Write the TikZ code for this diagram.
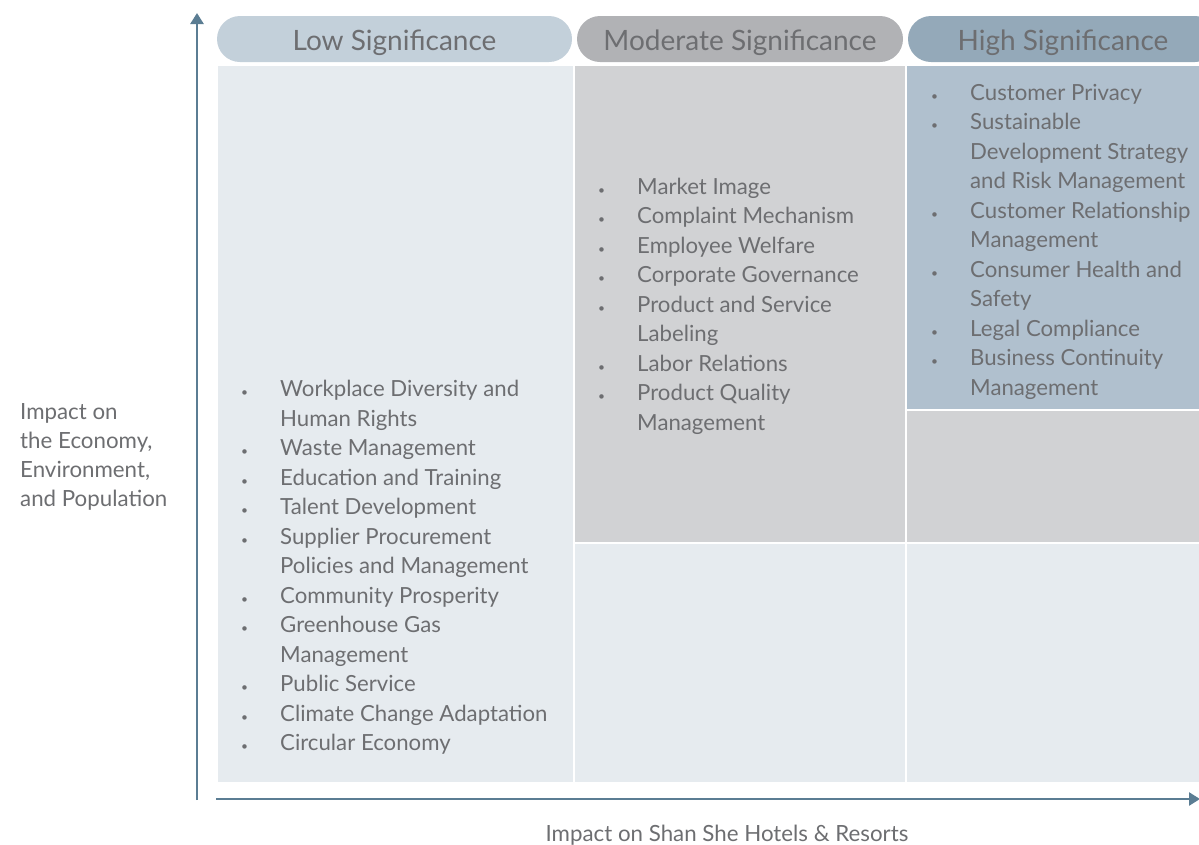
\documentclass[tikz,border=0pt]{standalone}
\usepackage{fontspec}
\setmainfont{Lato}
\usetikzlibrary{arrows.meta}
\definecolor{lowhead}{HTML}{C3D0DA}
\definecolor{modhead}{HTML}{B1B2B5}
\definecolor{highhead}{HTML}{94A9B9}
\definecolor{lowcell}{HTML}{E6EBEF}
\definecolor{modcell}{HTML}{D1D2D4}
\definecolor{highcell}{HTML}{B0C0CE}
\definecolor{axiscol}{HTML}{5B7D93}
\definecolor{txt}{HTML}{6D6E71}
\newcommand\bul{\makebox[36pt][l]{\hspace{-3pt}{\fontsize{12}{12}\selectfont •}}}
\newcommand\ind{\hspace*{36pt}}
\tikzset{
  head/.style={rounded corners=23pt, minimum height=46pt, inner sep=0pt, text height=22pt, text depth=0pt, text=txt, font=\fontsize{28}{30}\selectfont},
  cell/.style={inner sep=0pt, anchor=north west},
  list/.style={inner sep=0pt, anchor=base west, align=left, text=txt, font=\fontsize{22.2}{29.5}\selectfont},
  axis/.style={draw=axiscol, line width=2.5pt, -{Triangle[length=11pt,width=13pt]}},
  label/.style={inner sep=0pt, text=txt, font=\fontsize{22.3}{29}\selectfont}
}
\begin{document}
\begin{tikzpicture}[x=1pt,y=-1pt]
\useasboundingbox (0,0) rectangle (1199,844);
% headers
\node[head, fill=lowhead, minimum width=355pt] (hlow) at (394.5,39) {Low Significance};
\node[head, fill=modhead, minimum width=326pt] (hmod) at (740,39) {Moderate Significance};
\node[head, fill=highhead, minimum width=310pt] (hhigh) at (1063,39) {High Significance};
% cells
\node[cell, fill=lowcell, minimum width=355pt, minimum height=716pt] (clow) at (218,66) {};
\node[cell, fill=modcell, minimum width=330pt, minimum height=476pt] (cmodtop) at (575,66) {};
\node[cell, fill=lowcell, minimum width=330pt, minimum height=238pt] (cmodbot) at (575,544) {};
\node[cell, fill=highcell, minimum width=300pt, minimum height=343pt] (chightop) at (907,66) {};
\node[cell, fill=modcell, minimum width=300pt, minimum height=131pt] (chighmid) at (907,411) {};
\node[cell, fill=lowcell, minimum width=300pt, minimum height=238pt] (chighbot) at (907,544) {};
% axes
\coordinate (yb) at (197,800);
\coordinate (yt) at (197,13);
\coordinate (xl) at (216,799);
\coordinate (xr) at (1200,799);
\draw[axis] (yb) -- (yt);
\draw[axis] (xl) -- (xr);
% lists (anchored at the baseline of their last line)
\node[list] (llow) at (244,750.5) {\bul Workplace Diversity and\\
\ind Human Rights\\
\bul Waste Management\\
\bul Education and Training\\
\bul Talent Development\\
\bul Supplier Procurement\\
\ind Policies and Management\\
\bul Community Prosperity\\
\bul Greenhouse Gas\\
\ind Management\\
\bul Public Service\\
\bul Climate Change Adaptation\\
\bul Circular Economy};
\node[list] (lmod) at (601,430) {\bul Market Image\\
\bul Complaint Mechanism\\
\bul Employee Welfare\\
\bul Corporate Governance\\
\bul Product and Service\\
\ind Labeling\\
\bul Labor Relations\\
\bul Product Quality\\
\ind Management};
\node[list] (lhigh) at (934,395) {\bul Customer Privacy\\
\bul Sustainable\\
\ind Development Strategy\\
\ind and Risk Management\\
\bul Customer Relationship\\
\ind Management\\
\bul Consumer Health and\\
\ind Safety\\
\bul Legal Compliance\\
\bul Business Continuity\\
\ind Management};
% axis labels
\node[label, anchor=base west, align=left] (ylab) at (20,506) {Impact on\\the Economy,\\Environment,\\and Population};
\node[label, anchor=base] (xlab) at (727,841) {Impact on Shan She Hotels \& Resorts};
\end{tikzpicture}
\end{document}
